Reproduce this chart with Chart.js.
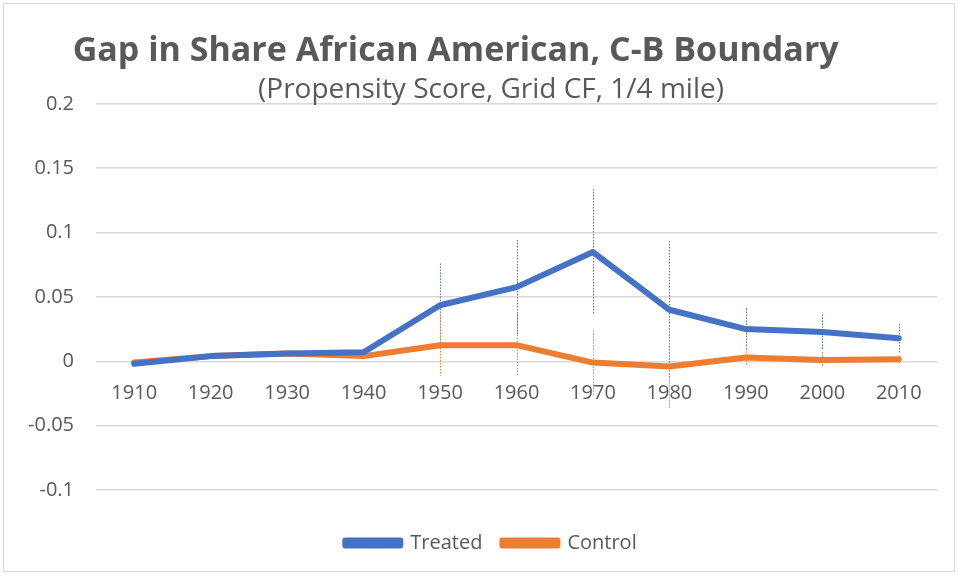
<!DOCTYPE html>
<html>
<head>
<meta charset="utf-8">
<script src="https://cdn.jsdelivr.net/npm/chart.js@4/dist/chart.umd.min.js"></script>
<style>
  html, body { margin: 0; padding: 0; background: #fff; }
  #wrap { position: relative; width: 958px; height: 575px; }
  #frame { position: absolute; left: 3px; top: 3px; width: 950px; height: 567px;
           border: 1px solid #d9d9d9; pointer-events: none; }
</style>
</head>
<body>
<div id="wrap">
  <canvas id="myChart" width="958" height="575"></canvas>
  <div id="frame"></div>
</div>
<script>
// Census years on the category axis
var years = ["1910", "1920", "1930", "1940", "1950", "1960", "1970", "1980", "1990", "2000", "2010"];

// Gap estimates
var treated = [-0.002, 0.004, 0.006, 0.007, 0.0435, 0.0576, 0.0848, 0.0400, 0.0250, 0.0228, 0.0178];
var control = [-0.001, 0.004, 0.006, 0.004, 0.0125, 0.0125, -0.001, -0.004, 0.0030, 0.0010, 0.0015];

// Half-widths of the dotted confidence bars
var treatedErr = [0, 0, 0, 0.002, 0.0325, 0.0366, 0.0490, 0.0535, 0.0160, 0.0135, 0.0112];
var controlErr = [0, 0, 0, 0.002, 0.0235, 0.0245, 0.0250, 0.0320, 0.0070, 0.0060, 0.0030];

var blue = "#4472C4";
var orange = "#ED7D31";
var textGrey = "#595959";
var fontFamily = "'Open Sans', Lato, sans-serif";

/*
 * Draws the dotted vertical error bars for each dataset,
 * using the chart's own x and y scales.
 */
var errorBars = {
    id: "errorBars",
    beforeDatasetsDraw: function(chart) {
        var ctx = chart.ctx;
        var x = chart.scales.x;
        var y = chart.scales.y;
        var sets = [[treated, treatedErr, blue], [control, controlErr, orange]];
        ctx.save();
        ctx.lineWidth = 1;
        ctx.setLineDash([1.5, 1.5]);
        for (var s = 0; s < sets.length; s++) {
            var vals = sets[s][0], errs = sets[s][1];
            ctx.strokeStyle = sets[s][2];
            for (var i = 0; i < vals.length; i++) {
                if (!errs[i]) continue;
                var px = Math.round(x.getPixelForValue(i)) + 0.5;
                ctx.beginPath();
                ctx.moveTo(px, y.getPixelForValue(vals[i] + errs[i]));
                ctx.lineTo(px, y.getPixelForValue(vals[i] - errs[i]));
                ctx.stroke();
            }
        }
        ctx.restore();
    }
};

var ctx = document.getElementById("myChart").getContext("2d");
new Chart(ctx, {
    type: "line",
    plugins: [errorBars],
    data: {
        labels: years,
        datasets: [{
            label: "Treated",
            data: treated,
            borderColor: blue,
            backgroundColor: blue,
            borderWidth: 6,
            borderCapStyle: "round",
            borderJoinStyle: "round",
            pointRadius: 0,
            tension: 0
        }, {
            label: "Control",
            data: control,
            borderColor: orange,
            backgroundColor: orange,
            borderWidth: 6,
            borderCapStyle: "round",
            borderJoinStyle: "round",
            pointRadius: 0,
            tension: 0
        }]
    },
    options: {
        responsive: false,
        animation: false,
        layout: { padding: { left: 45, right: 21, top: 22, bottom: 12 } },
        plugins: {
            title: {
                display: true,
                // trailing spaces nudge the title left, as in the original
                text: "Gap in Share African American, C-B Boundary\u00a0\u00a0\u00a0\u00a0\u00a0\u00a0\u00a0\u00a0",
                color: textGrey,
                font: { family: fontFamily, size: 34, weight: "bold" },
                padding: { top: 9, bottom: 0 }
            },
            subtitle: {
                display: true,
                text: "(Propensity Score, Grid CF, 1/4 mile)",
                color: textGrey,
                font: { family: fontFamily, size: 28, lineHeight: 1.0 },
                padding: { top: 4, bottom: 0 }
            },
            legend: {
                position: "bottom",
                title: {
                    display: true,
                    text: " ",
                    font: { size: 10, lineHeight: 1 },
                    padding: { top: 13, bottom: 0 }
                },
                labels: {
                    color: textGrey,
                    font: { family: fontFamily, size: 20 },
                    boxWidth: 55,
                    boxHeight: 5,
                    padding: 20
                }
            },
            tooltip: { enabled: false }
        },
        scales: {
            x: {
                position: { y: 0 },
                offset: true,
                grid: { display: false },
                border: { display: false },
                ticks: {
                    color: textGrey,
                    font: { family: fontFamily, size: 20 },
                    padding: 12
                }
            },
            y: {
                min: -0.1,
                max: 0.2,
                afterFit: function(scale) {
                    // narrow axis box, but let the labels spill to the left unclipped
                    scale.width = 51;
                    scale._computeLabelArea = function() { return undefined; };
                },
                grid: { color: "#d9d9d9", lineWidth: 1.5, drawTicks: false },
                border: { display: false },
                ticks: {
                    stepSize: 0.05,
                    color: textGrey,
                    font: { family: fontFamily, size: 20 },
                    padding: 22,
                    callback: function(v) { return String(Math.round(v * 100) / 100); }
                }
            }
        }
    }
});
</script>
</body>
</html>
